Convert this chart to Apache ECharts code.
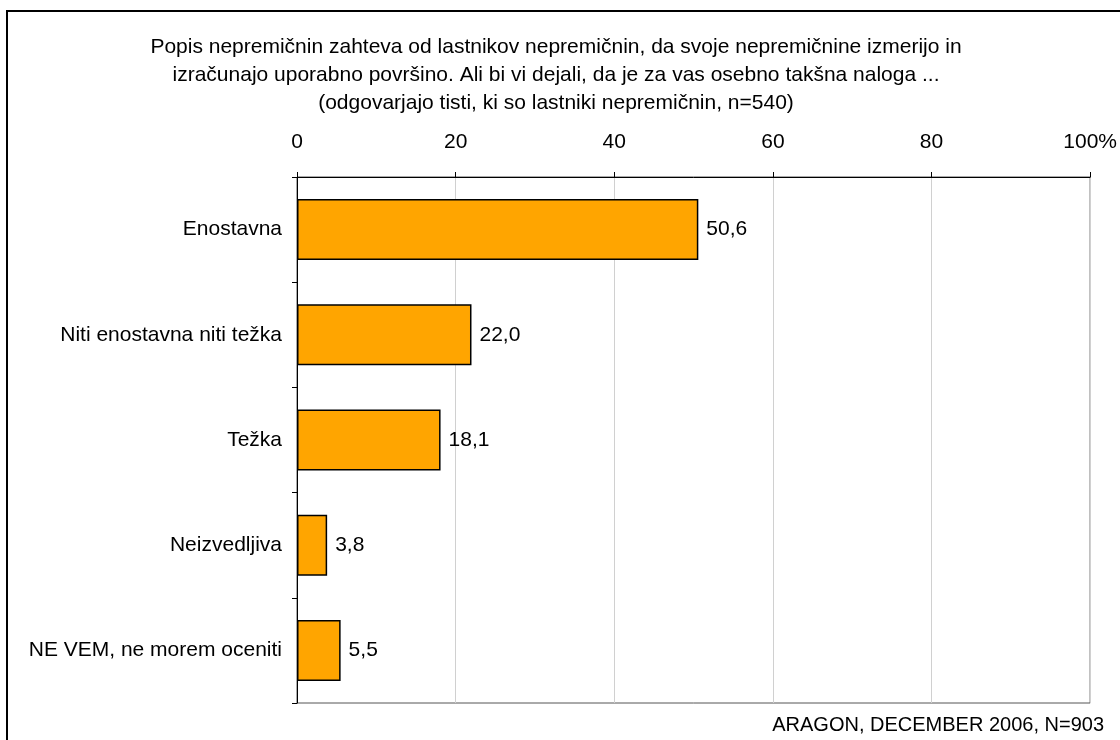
<!DOCTYPE html>
<html>
<head>
<meta charset="utf-8">
<style>
  html, body { margin: 0; padding: 0; background: #fff; }
  #chart { width: 1120px; height: 740px; }
</style>
<script src="https://cdn.jsdelivr.net/npm/echarts@6/dist/echarts.min.js"></script>
</head>
<body>
<div id="chart"></div>
<script>
// kategorije (od zgoraj navzdol)
var categories = ['Enostavna', 'Niti enostavna niti težka', 'Težka', 'Neizvedljiva', 'NE VEM, ne morem oceniti'];
// deleži v %
var values = [50.6, 22.0, 18.1, 3.8, 5.5];
// oznake na osi x
var xTicks = [0, 20, 40, 60, 80, 100];

var titleLines = [
  'Popis nepremičnin zahteva od lastnikov nepremičnin, da svoje nepremičnine izmerijo in',
  'izračunajo uporabno površino. Ali bi vi dejali, da je za vas osebno takšna naloga ...',
  '(odgovarjajo tisti, ki so lastniki nepremičnin, n=540)'
];
var footer = 'ARAGON, DECEMBER 2006, N=903';

var font = '"Liberation Sans", Arial, sans-serif';

var chart = echarts.init(document.getElementById('chart'));

var option = {
  backgroundColor: '#fff',
  animation: false,
  textStyle: { fontFamily: font },
  grid: {
    left: 297,
    top: 177,
    width: 794,
    height: 526,
    show: true,
    borderColor: '#555',
    borderWidth: 1
  },
  graphic: [
    // okvir
    {
      type: 'rect',
      shape: { x: 7, y: 11, width: 1300, height: 900 },
      style: { fill: 'none', stroke: '#000', lineWidth: 2 },
      silent: true
    },
    {
      type: 'text',
      x: 556,
      y: 33,
      style: {
        text: titleLines.join('\n'),
        font: '21px ' + font,
        fill: '#000',
        align: 'center',
        verticalAlign: 'top',
        lineHeight: 28
      }
    },
    {
      type: 'text',
      x: 1104,
      y: 725,
      style: {
        text: footer,
        font: '20px ' + font,
        fill: '#000',
        align: 'right',
        verticalAlign: 'middle'
      }
    }
  ],
  xAxis: {
    type: 'value',
    position: 'top',
    min: xTicks[0],
    max: xTicks[xTicks.length - 1],
    interval: 20,
    axisLine: { show: true, lineStyle: { color: '#000', width: 1 } },
    axisTick: { show: true, length: 5, lineStyle: { color: '#000' } },
    axisLabel: {
      margin: 24,
      fontSize: 21,
      color: '#000',
      formatter: function (v) { return v === 100 ? '100%' : String(v); }
    },
    splitLine: { show: true, lineStyle: { color: '#d0d0d0', width: 1 } }
  },
  yAxis: {
    type: 'category',
    inverse: true,
    data: categories,
    axisLine: { show: true, lineStyle: { color: '#000', width: 1 } },
    axisTick: { show: true, length: 5, lineStyle: { color: '#000' } },
    axisLabel: { margin: 15, fontSize: 21, color: '#000' },
    splitLine: { show: false }
  },
  series: [{
    type: 'bar',
    data: values,
    barCategoryGap: '42%',
    itemStyle: { color: '#FFA500', borderColor: '#000', borderWidth: 1.5 },
    label: {
      show: true,
      position: 'right',
      distance: 8,
      fontSize: 21,
      color: '#000',
      formatter: function (p) { return p.value.toFixed(1).replace('.', ','); }
    }
  }]
};

chart.setOption(option);
</script>
</body>
</html>
